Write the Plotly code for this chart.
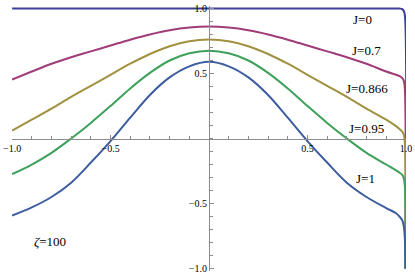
import plotly.graph_objects as go

# sample positions along x (dense near x=1 where the curves fall off)
x_vals = [-1.0, -0.9, -0.8, -0.7, -0.6, -0.5, -0.4, -0.3, -0.2, -0.1, 0.0,
          0.1, 0.2, 0.3, 0.4, 0.5, 0.6, 0.7, 0.8, 0.9,
          0.95, 0.97, 0.98, 0.985, 0.99, 0.995, 0.998]

y_j0 = [1.0, 1.0, 1.0, 1.0, 1.0, 1.0, 1.0, 1.0, 1.0, 1.0, 1.0,
        1.0, 1.0, 1.0, 1.0, 1.0, 1.0, 1.0, 1.0, 1.0,
        1.0, 0.999, 0.996, 0.99, 0.978, 0.945, -1.0]
y_j07 = [0.453, 0.515, 0.575, 0.625, 0.67, 0.715, 0.76, 0.80, 0.832, 0.853, 0.861,
         0.853, 0.832, 0.80, 0.76, 0.715, 0.67, 0.625, 0.575, 0.515,
         0.49, 0.478, 0.468, 0.458, 0.44, 0.37, -1.0]
y_j0866 = [0.06, 0.145, 0.23, 0.32, 0.405, 0.49, 0.575, 0.65, 0.71, 0.748, 0.761,
           0.748, 0.71, 0.65, 0.575, 0.49, 0.405, 0.32, 0.23, 0.145,
           0.095, 0.07, 0.055, 0.045, 0.025, -0.04, -1.0]
y_j095 = [-0.274, -0.20, -0.11, 0.0, 0.12, 0.25, 0.385, 0.505, 0.60, 0.655, 0.675,
          0.655, 0.60, 0.505, 0.385, 0.25, 0.12, 0.0, -0.11, -0.20,
          -0.245, -0.265, -0.278, -0.288, -0.31, -0.37, -1.0]
y_j1 = [-0.593, -0.53, -0.45, -0.34, -0.185, -0.02, 0.16, 0.335, 0.47, 0.555, 0.59,
        0.555, 0.47, 0.335, 0.16, -0.02, -0.185, -0.34, -0.45, -0.535,
        -0.575, -0.605, -0.625, -0.645, -0.68, -0.78, -1.0]

series = [("J=0", y_j0, "#3d3d9e"),
          ("J=0.7", y_j07, "#a03c78"),
          ("J=0.866", y_j0866, "#a09140"),
          ("J=0.95", y_j095, "#3da05a"),
          ("J=1", y_j1, "#3d5da0")]

# label positions in data coordinates
labels = ["J=0", "J=0.7", "J=0.866", "J=0.95", "J=1"]
label_x = [0.78, 0.80, 0.80, 0.80, 0.795]
label_y = [0.913, 0.68, 0.387, 0.079, -0.305]

tick_vals = [-1.0, -0.5, 0.5, 1.0]
tick_text = ["\u22121.0", "\u22120.5", "0.5", "1.0"]

fig = go.Figure()
for name, ys, col in series:
    fig.add_trace(go.Scatter(x=x_vals, y=ys, mode="lines", name=name,
                             line=dict(color=col, width=2, shape="spline", smoothing=1.0)))

for t, lx, ly in zip(labels, label_x, label_y):
    fig.add_annotation(x=lx, y=ly, text=t, showarrow=False,
                       font=dict(family="Liberation Serif", size=13, color="black"))
fig.add_annotation(x=-0.81, y=-0.793, text="<i>\u03b6</i>=100", showarrow=False,
                   font=dict(family="Liberation Serif", size=13, color="black"))

axis_common = dict(showline=True, linecolor="#8c8c8c", linewidth=1, anchor="free", position=0.5,
                   tickmode="array", tickvals=tick_vals, ticktext=tick_text,
                   ticks="inside", ticklen=4, tickcolor="#8c8c8c", tickwidth=1,
                   minor=dict(tickmode="linear", tick0=0, dtick=0.1, ticks="inside",
                              ticklen=2.5, tickcolor="#8c8c8c", tickwidth=1),
                   showgrid=False, zeroline=False, ticklabeloverflow="allow",
                   tickfont=dict(family="Liberation Serif", size=10, color="black"))

fig.update_layout(width=415, height=277, margin=dict(l=9, r=6, t=3, b=3),
                  paper_bgcolor="white", plot_bgcolor="white", showlegend=False,
                  xaxis=dict(range=[-1.0005, 1.0005], **axis_common),
                  yaxis=dict(range=[-1.019, 1.019], **axis_common))

# the page's default body margin would shift the chart by 8px
fig.write_html("out.html", config={"displayModeBar": False},
               post_script="document.body.style.margin='0';")
